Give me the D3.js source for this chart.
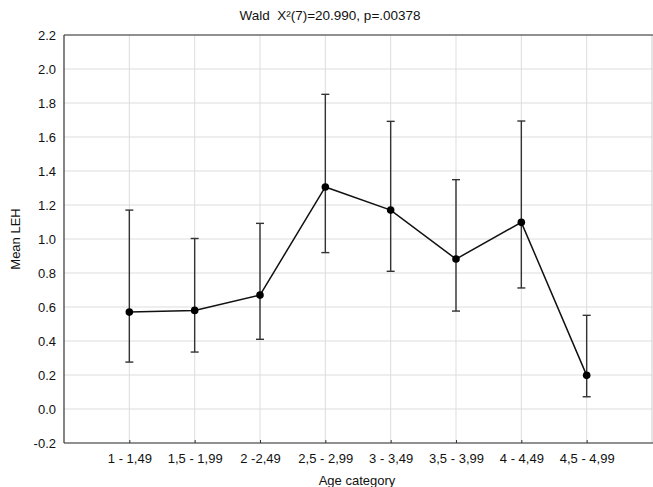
<!DOCTYPE html>
<html>
<head>
<meta charset="utf-8">
<script src="https://cdn.jsdelivr.net/npm/d3@7"></script>
<style>
  html, body { margin: 0; padding: 0; background: #fff; }
  svg { display: block; font-family: "Liberation Sans", Arial, sans-serif; }
</style>
</head>
<body>
<svg id="chart" width="653" height="487"></svg>
<script>
const categories = ["1 - 1,49", "1,5 - 1,99", "2 -2,49", "2,5 - 2,99", "3 - 3,49", "3,5 - 3,99", "4 - 4,49", "4,5 - 4,99"];
const means = [0.57, 0.58, 0.67, 1.306, 1.17, 0.882, 1.098, 0.198];
const upper = [1.17, 1.003, 1.092, 1.851, 1.692, 1.349, 1.694, 0.551];
const lower = [0.276, 0.335, 0.41, 0.92, 0.81, 0.576, 0.712, 0.072];
const yTicks = [-0.2, 0.0, 0.2, 0.4, 0.6, 0.8, 1.0, 1.2, 1.4, 1.6, 1.8, 2.0, 2.2];
const title = "Wald  X\u00B2(7)=20.990, p=.00378";
const xTitle = "Age category";
const yTitle = "Mean LEH";

(function () {
const svg = d3.select("#chart");
const pL = 64, pR = 652, pT = 35, pB = 443;
const FS = 13;

const x = d3.scaleLinear().domain([0, categories.length + 1]).range([pL, pR]);
const y = d3.scaleLinear().domain([-0.2, 2.2]).range([pB, pT]);

const data = categories.map((c, i) => ({ c, i, m: means[i], hi: upper[i], lo: lower[i] }));

// gridlines
const g = svg.append("g");
g.selectAll("line.hg").data(yTicks).join("line")
  .attr("x1", pL).attr("x2", pR)
  .attr("y1", d => y(d)).attr("y2", d => y(d))
  .attr("stroke", "#dddddd").attr("stroke-width", 1);
g.selectAll("line.vg").data(data).join("line")
  .attr("x1", d => x(d.i + 1)).attr("x2", d => x(d.i + 1))
  .attr("y1", pT).attr("y2", pB)
  .attr("stroke", "#dddddd").attr("stroke-width", 1);

// right border light
svg.append("line").attr("x1", pR).attr("x2", pR).attr("y1", pT).attr("y2", pB)
  .attr("stroke", "#cccccc").attr("stroke-width", 1);

// axes
const fmt = d => d3.format(".1f")(d).replace("\u2212", "-");
const yAxis = d3.axisLeft(y).tickValues(yTicks).tickFormat(fmt).tickSize(0).tickPadding(8);
const yg = svg.append("g").attr("transform", `translate(${pL},0)`).call(yAxis);
yg.select(".domain").remove();
yg.selectAll("text").attr("font-size", FS).attr("fill", "#111")
  .attr("font-family", "'Liberation Sans', Arial, sans-serif");

const xAxis = d3.axisBottom(x).tickValues(data.map(d => d.i + 1)).tickFormat((d, i) => categories[i]).tickSize(-3).tickPadding(11);
const xg = svg.append("g").attr("transform", `translate(0,${pB})`).call(xAxis);
xg.select(".domain").remove();
xg.selectAll(".tick line").attr("stroke", "#333");
xg.selectAll("text").attr("font-size", FS).attr("fill", "#111")
  .attr("font-family", "'Liberation Sans', Arial, sans-serif");

// frame lines left, top, bottom
svg.append("line").attr("x1", pL).attr("x2", pL).attr("y1", pT).attr("y2", pB).attr("stroke", "#333").attr("stroke-width", 1.2);
svg.append("line").attr("x1", pL).attr("x2", pR + 1).attr("y1", pT).attr("y2", pT).attr("stroke", "#333").attr("stroke-width", 1.2);
svg.append("line").attr("x1", pL).attr("x2", pR + 1).attr("y1", pB).attr("y2", pB).attr("stroke", "#333").attr("stroke-width", 1.2);

// error bars
const eb = svg.append("g").attr("stroke", "#333").attr("stroke-width", 1.4);
eb.selectAll("line.v").data(data).join("line")
  .attr("x1", d => x(d.i + 1)).attr("x2", d => x(d.i + 1))
  .attr("y1", d => y(d.lo)).attr("y2", d => y(d.hi));
eb.selectAll("line.capH").data(data).join("line")
  .attr("x1", d => x(d.i + 1) - 4).attr("x2", d => x(d.i + 1) + 4)
  .attr("y1", d => y(d.hi)).attr("y2", d => y(d.hi));
eb.selectAll("line.capL").data(data).join("line")
  .attr("x1", d => x(d.i + 1) - 4).attr("x2", d => x(d.i + 1) + 4)
  .attr("y1", d => y(d.lo)).attr("y2", d => y(d.lo));

// mean line
const line = d3.line().x(d => x(d.i + 1)).y(d => y(d.m));
svg.append("path").datum(data).attr("d", line)
  .attr("fill", "none").attr("stroke", "#111").attr("stroke-width", 1.5);

svg.selectAll("circle.pt").data(data).join("circle")
  .attr("cx", d => x(d.i + 1)).attr("cy", d => y(d.m)).attr("r", 3.8)
  .attr("fill", "#000");

// titles
svg.append("text").attr("x", 330).attr("y", 20).attr("text-anchor", "middle")
  .style("white-space", "pre")
  .attr("font-size", 13.5).attr("fill", "#111").text(title);
svg.append("text").attr("x", 357).attr("y", 485).attr("text-anchor", "middle")
  .attr("font-size", FS).attr("fill", "#111").text(xTitle);
svg.append("text").attr("transform", `translate(20,${(pT + pB) / 2}) rotate(-90)`)
  .attr("text-anchor", "middle").attr("font-size", FS).attr("fill", "#111").text(yTitle);
})();
</script>
</body>
</html>
